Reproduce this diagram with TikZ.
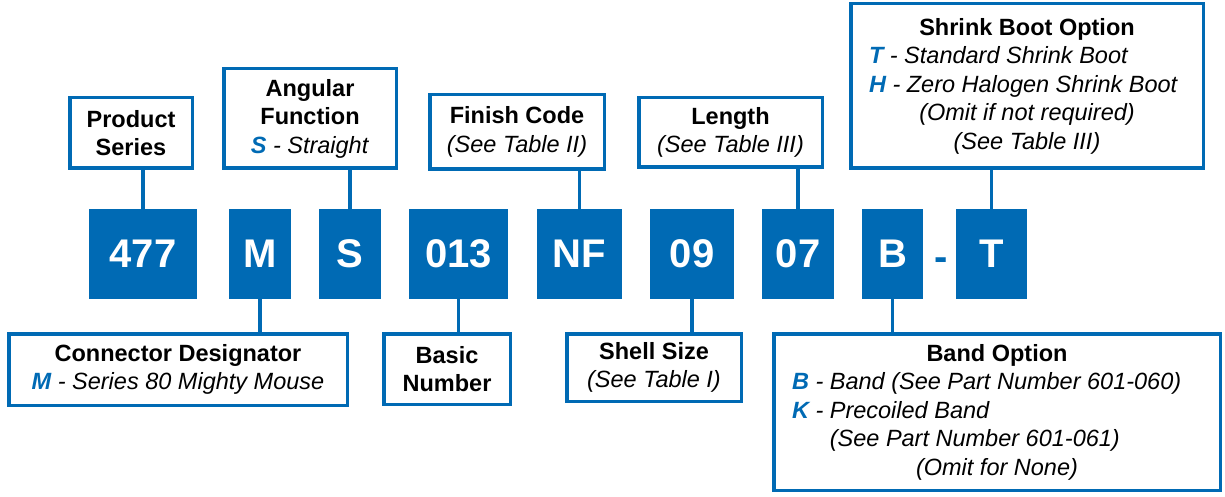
\documentclass[tikz,border=0pt]{standalone}
\usepackage{fontspec}
\setmainfont{Liberation Sans}
\usepackage{tikz}
\definecolor{pnblue}{RGB}{0,106,180}
\newcommand{\opt}[1]{\textcolor{pnblue}{\textbf{#1}}}

\begin{document}
\begin{tikzpicture}[x=1pt,y=-1pt]
\tikzstyle{every node}+=[inner sep=0pt]
\tikzstyle{code}=[fill=pnblue,text=white,minimum height=90pt,font=\fontsize{40}{48}\selectfont\bfseries]
\tikzstyle{lbl}=[draw=pnblue,line width=3.5pt,align=center,font=\fontsize{23.5}{28.5}\selectfont]
\tikzstyle{link}=[draw=pnblue,line width=3.5pt]
\useasboundingbox (0,0) rectangle (1225,497);
% part number blocks
\node [code,minimum width=108pt] (c477) at (143,254) {477};
\node [code,minimum width=62pt] (cM) at (260,254) {M};
\node [code,minimum width=62pt] (cS) at (350,254) {S};
\node [code,minimum width=99pt] (c013) at (458.5,254) {013};
\node [code,minimum width=85pt] (cNF) at (579.5,254) {NF};
\node [code,minimum width=84pt] (c09) at (692,254) {09};
\node [code,minimum width=72pt] (c07) at (798,254) {07};
\node [code,minimum width=61pt] (cB) at (892.5,254) {B};
\node [text=pnblue,anchor=base,font=\fontsize{40}{48}\selectfont\bfseries] (dash) at (941,270) {-};
\node [code,minimum width=71pt] (cT) at (991.5,254) {T};
% upper labels
\node [lbl,minimum width=122.5pt,minimum height=70.5pt] (prod) at (131,133)
  {\textbf{Product}\\\textbf{Series}};
\node [lbl,minimum width=172.5pt,minimum height=99.5pt] (ang) at (310,118.5)
  {\textbf{Angular}\\\textbf{Function}\\\textit{\opt{S} - Straight}};
\node [lbl,minimum width=174.5pt,minimum height=74.5pt] (fin) at (517,132)
  {\textbf{Finish Code}\\\textit{(See Table II)}};
\node [lbl,minimum width=183.5pt,minimum height=69.5pt] (len) at (730.5,132.5)
  {\textbf{Length}\\\textit{(See Table III)}};
\node [lbl,minimum width=352.5pt,minimum height=164.5pt] (shr) at (1027,86)
  {\textbf{Shrink Boot Option}\\
   \makebox[316pt][l]{\textit{\opt{T} - Standard Shrink Boot}}\\
   \makebox[316pt][l]{\textit{\opt{H} - Zero Halogen Shrink Boot}}\\
   \textit{(Omit if not required)}\\
   \textit{(See Table III)}};
% lower labels
\node [lbl,minimum width=338.5pt,minimum height=71.5pt] (con) at (178,369.5)
  {\textbf{Connector Designator}\\\textit{\opt{M} - Series 80 Mighty Mouse}};
\node [lbl,minimum width=126.5pt,minimum height=70.5pt] (bas) at (447,369)
  {\textbf{Basic}\\\textbf{Number}};
\node [lbl,minimum width=174.5pt,minimum height=67.5pt] (she) at (654,367.5)
  {\textbf{Shell Size}\\\textit{(See Table I)}};
\node [lbl,minimum width=446.5pt,minimum height=156.5pt] (bnd) at (997,412)
  {\textbf{Band Option}\\
   \makebox[410pt][l]{\textit{\opt{B} - Band (See Part Number 601-060)}}\\
   \makebox[410pt][l]{\textit{\opt{K} - Precoiled Band}}\\
   \makebox[410pt][l]{\textit{\phantom{\opt{K} - }(See Part Number 601-061)}}\\
   \textit{(Omit for None)}};
% connectors
\draw [link] (c477.north) -- (c477.north |- prod.south);
\draw [link] (cS.north) -- (cS.north |- ang.south);
\draw [link] (cNF.north) -- (cNF.north |- fin.south);
\draw [link] (c07.north) -- (c07.north |- len.south);
\draw [link] (cT.north) -- (cT.north |- shr.south);
\draw [link] (cM.south) -- (cM.south |- con.north);
\draw [link] (c013.south) -- (c013.south |- bas.north);
\draw [link] (c09.south) -- (c09.south |- she.north);
\draw [link] (cB.south) -- (cB.south |- bnd.north);
\end{tikzpicture}
\end{document}
